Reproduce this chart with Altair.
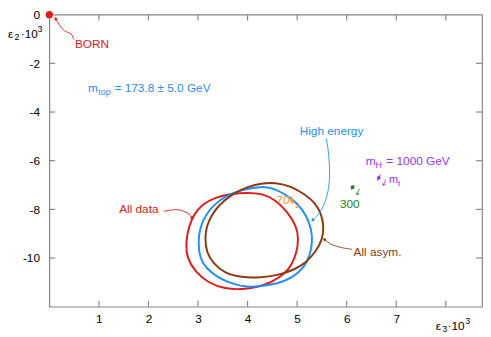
import altair as alt
import pandas as pd

# ---------------- data (eps3*1e3, eps2*1e3) ----------------
red_x = [2.75, 2.81, 2.92, 3.08, 3.33, 3.67, 4.01, 4.29, 4.56, 4.82, 4.99, 5.03,
         4.99, 4.89, 4.73, 4.46, 4.20, 3.89, 3.55, 3.21, 2.95, 2.78]
red_y = [-9.43, -8.71, -8.20, -7.80, -7.52, -7.35, -7.31, -7.35, -7.60, -8.14, -8.71, -9.23,
         -9.77, -10.30, -10.69, -11.02, -11.19, -11.29, -11.27, -11.03, -10.57, -10.02]

blue_x = [3.00, 3.04, 3.17, 3.34, 3.54, 3.87, 4.27, 4.52, 4.76, 5.02, 5.19, 5.29,
          5.31, 5.26, 5.13, 4.89, 4.60, 4.27, 3.97, 3.74, 3.41, 3.17, 3.04]
blue_y = [-9.37, -8.71, -8.18, -7.78, -7.47, -7.19, -7.05, -7.13, -7.37, -7.78, -8.26, -8.83,
          -9.31, -9.90, -10.43, -10.82, -11.06, -11.16, -11.19, -11.09, -10.82, -10.43, -10.03]

brown_x = [3.14, 3.17, 3.27, 3.41, 3.67, 4.00, 4.27, 4.56, 4.89, 5.16, 5.36, 5.49,
           5.54, 5.51, 5.39, 5.19, 4.93, 4.60, 4.27, 3.87, 3.54, 3.31, 3.17]
brown_y = [-9.18, -8.71, -8.25, -7.85, -7.39, -7.06, -6.93, -6.89, -7.06, -7.39, -7.72, -8.19,
           -8.71, -9.23, -9.70, -10.17, -10.50, -10.71, -10.80, -10.80, -10.63, -10.23, -9.77]

born_x = [0.0]
born_y = [0.0]

# SM prediction points (m_H values)
mh70_x, mh70_y = [4.895], [-7.632]
mh300_x, mh300_y = [6.117], [-7.089]
mh1000_x, mh1000_y = [6.647], [-6.705]

x_tick_values = [1, 2, 3, 4, 5, 6, 7, 8]
x_label_values = [1, 2, 3, 4, 5, 6, 7]
y_tick_values = [-2, -4, -6, -8, -10]
y_label_values = [0, -2, -4, -6, -8, -10]

# annotation arrows (data coordinates)
born_arrow_x = [0.496, 0.476, 0.442, 0.363, 0.264, 0.198, 0.129]
born_arrow_y = [-1.018, -0.923, -0.792, -0.725, -0.594, -0.396, -0.178]
he_arrow_x = [5.589, 5.635, 5.655, 5.615, 5.496, 5.317]
he_arrow_y = [-5.069, -5.743, -6.535, -7.327, -8.000, -8.436]
ad_arrow_x = [2.312, 2.579, 2.778, 2.877]
ad_arrow_y = [-8.079, -8.012, -8.139, -8.337]
aa_arrow_x = [6.111, 5.887, 5.688, 5.556]
aa_arrow_y = [-9.644, -9.564, -9.438, -9.240]

# ---------------- styling ----------------
FONT = "Liberation Sans"
RED = "#e01b1b"
BLUE = "#1f8fff"
BROWN = "#8b3a12"
ORANGE = "#ff9411"
GREEN = "#1e7d1e"
PURPLE = "#9b30ff"
GRAY = "#888888"
W, H = 440, 297

xs = alt.Scale(domain=[0, 8.73], nice=False, zero=False)
ys = alt.Scale(domain=[-12, 0], nice=False, zero=False)

AX_X = alt.Axis(values=x_label_values, title=None, grid=False, ticks=False, domain=False,
                labelFontSize=12, labelColor="black", labelFont=FONT, labelPadding=7,
                labelAngle=0, labelFlush=False)
AX_Y = alt.Axis(values=y_label_values, title=None, grid=False, ticks=False, domain=False,
                labelFontSize=12, labelColor="black", labelFont=FONT, labelPadding=10,
                labelFlush=False,
                labelExpr="datum.value < 0 ? '-' + abs(datum.value) : '0\u00a0\u00a0\u00a0'")


def X():
    return alt.X("x:Q", scale=xs, axis=AX_X)


def Y():
    return alt.Y("y:Q", scale=ys, axis=AX_Y)


def pos():
    return dict(x=X(), y=Y())


def ellipse(xv, yv, color):
    df = pd.DataFrame({"x": xv, "y": yv, "o": list(range(len(xv)))})
    return alt.Chart(df).mark_line(color=color, strokeWidth=2, interpolate="basis-closed").encode(
        order="o:Q", **pos())


def arrow(xv, yv, color, head_angle):
    df = pd.DataFrame({"x": xv, "y": yv, "o": list(range(len(xv)))})
    line = alt.Chart(df).mark_line(color=color, strokeWidth=0.9, interpolate="cardinal").encode(
        order="o:Q", **pos())
    head = alt.Chart(df.tail(1)).mark_point(shape="triangle", filled=True, size=16, angle=head_angle,
                                            color=color, opacity=1).encode(**pos())
    return [line, head]


def label(x, y, text, color, size=12, dx=0, dy=0, align="left", angle=0):
    df = pd.DataFrame({"x": [x], "y": [y]})
    return alt.Chart(df).mark_text(text=text, color=color, fontSize=size, dx=dx, dy=dy, align=align,
                                   baseline="middle", font=FONT, angle=angle).encode(**pos())


def marker(px, py, color, slash):
    df = pd.DataFrame({"x": px, "y": py})
    sdf = pd.DataFrame({"x": [slash[0]], "y": [slash[1]], "x2": [slash[2]], "y2": [slash[3]]})
    dot = alt.Chart(df).mark_point(filled=True, size=14, color=color, opacity=1).encode(**pos())
    sl = alt.Chart(sdf).mark_rule(color=color, strokeWidth=1).encode(
        x=X(), y=Y(), x2="x2:Q", y2="y2:Q")
    arr = alt.Chart(df).mark_text(text="↓", color=color, fontSize=9, dx=7, dy=3, font="DejaVu Sans",
                                  angle=20).encode(**pos())
    return [sl, dot, arr]


xt = pd.DataFrame({"x": x_tick_values})
yt = pd.DataFrame({"y": y_tick_values})
ticks = [
    alt.Chart(xt).mark_rule(color=GRAY, strokeWidth=1.2).encode(
        x=X(), y=alt.value(H), y2=alt.value(H - 6)),
    alt.Chart(xt).mark_rule(color=GRAY, strokeWidth=1.2).encode(
        x=X(), y=alt.value(0), y2=alt.value(6)),
    alt.Chart(yt).mark_rule(color=GRAY, strokeWidth=1.2).encode(
        y=Y(), x=alt.value(0), x2=alt.value(6)),
    alt.Chart(yt).mark_rule(color=GRAY, strokeWidth=1.2).encode(
        y=Y(), x=alt.value(W), x2=alt.value(W - 6)),
]

layers = list(ticks)
layers += [ellipse(red_x, red_y, RED), ellipse(blue_x, blue_y, BLUE), ellipse(brown_x, brown_y, BROWN)]

# BORN point
layers.append(alt.Chart(pd.DataFrame({"x": born_x, "y": born_y})).mark_point(
    filled=True, size=55, color=RED, opacity=1).encode(**pos()))

# arrows
layers += arrow(born_arrow_x, born_arrow_y, RED, 327)
layers += arrow(he_arrow_x, he_arrow_y, BLUE, 219)
layers += arrow(ad_arrow_x, ad_arrow_y, RED, 135)
layers += arrow(aa_arrow_x, aa_arrow_y, BROWN, 307)

# SM markers
layers += marker(mh70_x, mh70_y, ORANGE, (4.887, -7.457, 4.907, -7.790))
layers += marker(mh300_x, mh300_y, GREEN, (6.097, -7.196, 6.151, -6.998))
layers += marker(mh1000_x, mh1000_y, PURPLE, (6.613, -6.824, 6.681, -6.562))

# text annotations
layers += [
    label(0.516, -1.188, "BORN", RED),
    label(0.780, -3.010, "m", BLUE),
    label(0.780, -3.010, "top", BLUE, size=9, dx=10.5, dy=4),
    label(0.780, -3.010, "= 173.8 ± 5.0 GeV", BLUE, dx=27),
    label(5.694, -4.792, "High energy", BLUE, align="center"),
    label(6.383, -6.032, "m", PURPLE),
    label(6.383, -6.032, "H", PURPLE, size=9, dx=10, dy=4),
    label(6.383, -6.032, "= 1000 GeV", PURPLE, dx=21),
    label(6.855, -6.812, "m", PURPLE, size=11),
    label(6.855, -6.812, "t", PURPLE, size=8, dx=9, dy=4),
    label(4.847, -7.616, "70", ORANGE, align="right"),
    label(6.062, -7.790, "300", GREEN, align="center"),
    label(1.806, -8.000, "All data", RED, align="center"),
    label(6.621, -9.770, "All asym.", BROWN, align="center"),
    # axis titles
    label(-0.833, -0.792, "ε", "black"),
    label(-0.833, -0.792, "2", "black", size=9, dx=6.5, dy=3),
    label(-0.833, -0.792, "·10", "black", dx=13),
    label(-0.833, -0.792, "3", "black", size=9, dx=30, dy=-5),
    label(7.798, -12.79, "ε", "black"),
    label(7.798, -12.79, "3", "black", size=9, dx=6.5, dy=3),
    label(7.798, -12.79, "·10", "black", dx=12),
    label(7.798, -12.79, "3", "black", size=9, dx=30, dy=-5),
]

chart = alt.layer(*layers).properties(
    width=W, height=H,
    autosize=alt.AutoSizeParams(type="none"),
    padding={"left": 42, "top": 4, "right": 1, "bottom": 28},
).configure_view(stroke=GRAY, strokeWidth=1.2)

chart.save("out.html", embed_options={"renderer": "svg", "actions": False})
